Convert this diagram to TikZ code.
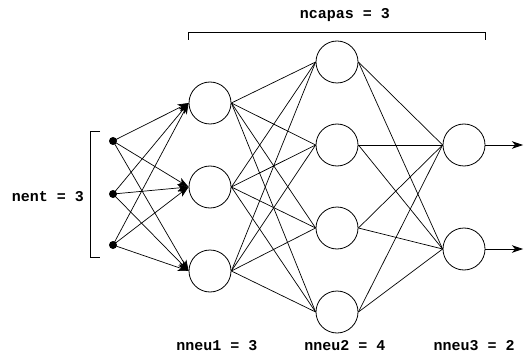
\documentclass[tikz,border=0pt]{standalone}
\usepackage{fontspec}
\setmonofont{Liberation Mono}
\usetikzlibrary{arrows.meta}
\begin{document}
\begin{tikzpicture}[x=1pt,y=-1pt,
  neuron/.style={draw,circle,minimum size=42pt,inner sep=0pt,line width=0.8pt},
  inp/.style={circle,fill,minimum size=8pt,inner sep=0pt},
  lbl/.style={font=\ttfamily\bfseries\fontsize{15}{15}\selectfont,inner sep=0pt},
  conn/.style={line width=0.7pt},
  arr/.style={conn,-{Stealth[length=11pt,width=7.5pt,inset=3pt]}},
  brk/.style={line width=0.7pt}]
\useasboundingbox (0,0) rectangle (524,358);
% inputs
\node[inp] (i1) at (113,141) {};
\node[inp] (i2) at (113,194) {};
\node[inp] (i3) at (113,245) {};
% layer 1
\node[neuron] (a1) at (210,103) {};
\node[neuron] (a2) at (210,187) {};
\node[neuron] (a3) at (210,271) {};
% layer 2
\node[neuron] (b1) at (337,62) {};
\node[neuron] (b2) at (337,145) {};
\node[neuron] (b3) at (337,228) {};
\node[neuron] (b4) at (337,312) {};
% layer 3
\node[neuron] (c1) at (464,145) {};
\node[neuron] (c2) at (464,249) {};
% outputs
\coordinate (o1) at (523,145);
\coordinate (o2) at (523,249);
% connections
\foreach \i in {1,2,3}{
  \foreach \j in {1,2,3}{
    \draw[arr] (i\i.center) -- (a\j.west);
  }
}
\foreach \i in {1,2,3}{
  \foreach \j in {1,2,3,4}{
    \draw[conn] (a\i.east) -- (b\j.west);
  }
}
\foreach \i in {1,2,3,4}{
  \foreach \j in {1,2}{
    \draw[conn] (b\i.east) -- (c\j.west);
  }
}
\draw[arr] (c1.east) -- (o1);
\draw[arr] (c2.east) -- (o2);
% brackets
\coordinate (t1) at (188,40);
\coordinate (t2) at (485,40);
\draw[brk] (t1) -- ++(0,-8) -| (t2);
\coordinate (l1) at (100,131);
\coordinate (l2) at (100,257);
\draw[brk] (l1) -- ++(-10,0) |- (l2);
% labels
\node[lbl] (ncap) at (345,15) {ncapas = 3};
\node[lbl] (nent) at (48,197) {nent = 3};
\node[lbl] (n1) at (217,346) {nneu1 = 3};
\node[lbl] (n2) at (345,346) {nneu2 = 4};
\node[lbl] (n3) at (474,346) {nneu3 = 2};
\end{tikzpicture}
\end{document}
